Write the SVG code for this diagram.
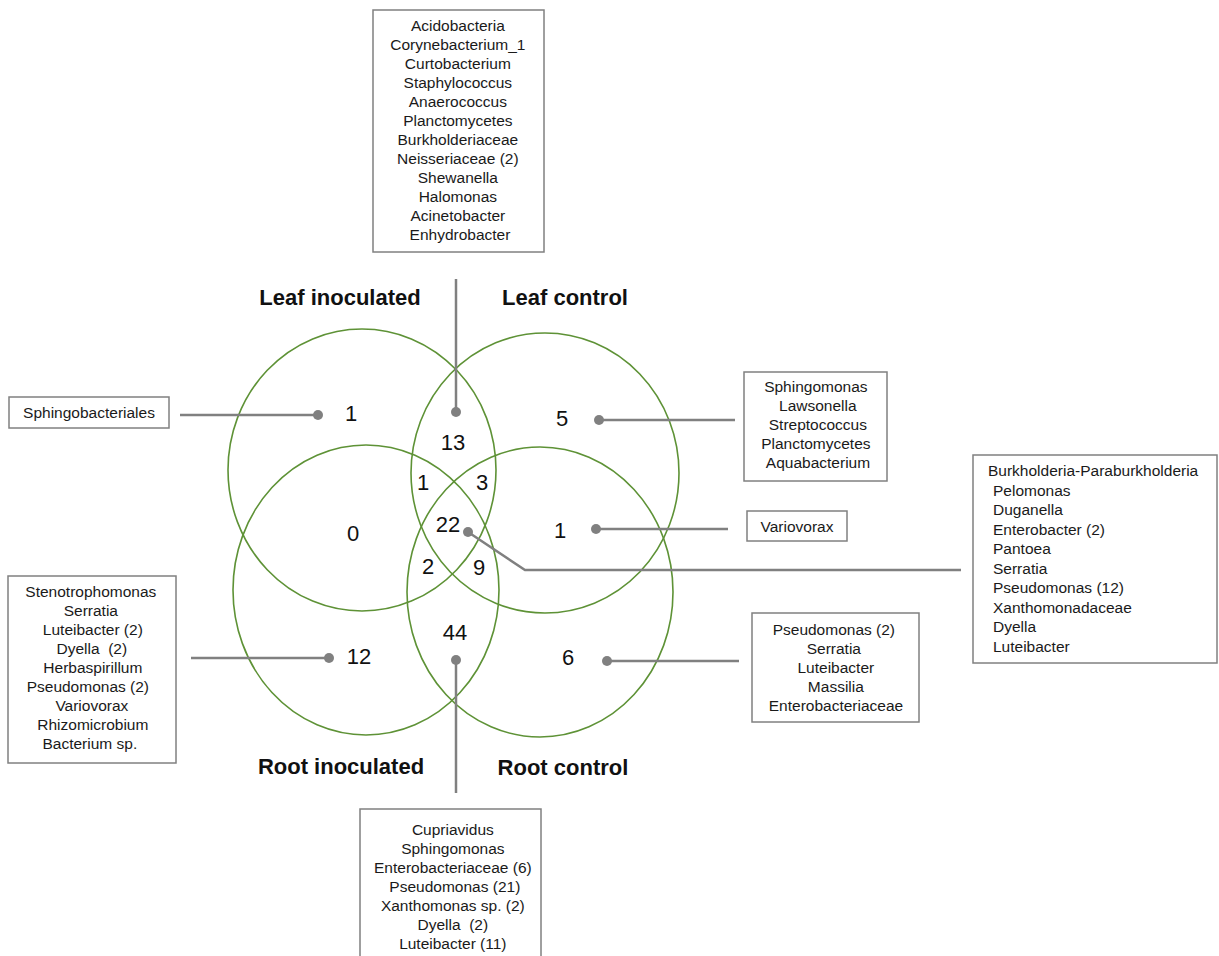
<svg xmlns="http://www.w3.org/2000/svg" width="1219" height="956" viewBox="0 0 1219 956">
<style>
.c{fill:none;stroke:#5e9236;stroke-width:1.6}
.b{fill:#fff;stroke:#808080;stroke-width:1.5}
.t{font-family:"Liberation Sans",Arial,sans-serif;font-size:15.5px;fill:#1a1a1a}
.n{font-family:"Liberation Sans",Arial,sans-serif;font-size:22px;fill:#111;text-anchor:middle}
.h{font-family:"Liberation Sans",Arial,sans-serif;font-size:22px;font-weight:bold;fill:#111;text-anchor:middle}
.l{fill:none;stroke:#808080;stroke-width:2.5}
.d{fill:#808080}
.p{white-space:pre}
</style>
<rect width="1219" height="956" fill="#fff"/>
<g id="circles">
<ellipse id="leaf-inoculated" class="c" cx="362" cy="470" rx="134" ry="141"/>
<ellipse id="leaf-control" class="c" cx="545" cy="473" rx="134" ry="140"/>
<ellipse id="root-inoculated" class="c" cx="366" cy="590" rx="133" ry="145"/>
<ellipse id="root-control" class="c" cx="540" cy="592" rx="133" ry="145"/>
</g>
<g id="headers">
<text class="h" x="340" y="305">Leaf inoculated</text>
<text class="h" x="565" y="305">Leaf control</text>
<text class="h" x="341" y="774">Root inoculated</text>
<text class="h" x="563" y="775">Root control</text>
</g>
<g id="connectors">
<line class="l" x1="456" y1="279" x2="456" y2="412"/><circle class="d" cx="456" cy="412" r="5"/>
<line class="l" x1="180" y1="415" x2="318" y2="415"/><circle class="d" cx="318" cy="415" r="5"/>
<line class="l" x1="599" y1="420" x2="735" y2="420"/><circle class="d" cx="599" cy="420" r="5"/>
<line class="l" x1="596" y1="529" x2="728" y2="529"/><circle class="d" cx="596" cy="529" r="5"/>
<polyline class="l" points="468,532 525,570 961,570"/><circle class="d" cx="468" cy="532" r="5"/>
<line class="l" x1="191" y1="658" x2="329" y2="658"/><circle class="d" cx="329" cy="658" r="5"/>
<line class="l" x1="607" y1="661" x2="739" y2="661"/><circle class="d" cx="607" cy="661" r="5"/>
<line class="l" x1="456" y1="660" x2="456" y2="793"/><circle class="d" cx="456" cy="660" r="5"/>
</g>
<g id="counts">
<text class="n" x="351" y="421">1</text>
<text class="n" x="453" y="450">13</text>
<text class="n" x="562" y="426">5</text>
<text class="n" x="423" y="490">1</text>
<text class="n" x="482" y="490">3</text>
<text class="n" x="448" y="532">22</text>
<text class="n" x="353" y="541">0</text>
<text class="n" x="560" y="538">1</text>
<text class="n" x="428" y="574">2</text>
<text class="n" x="479" y="575">9</text>
<text class="n" x="455" y="640">44</text>
<text class="n" x="359" y="664">12</text>
<text class="n" x="568" y="665">6</text>
</g>
<g id="box-top">
<rect class="b" x="373" y="10" width="171" height="242"/>
<text class="t" text-anchor="middle" x="460">
<tspan x="460" y="31">Acidobacteria</tspan>
<tspan x="460" y="50">Corynebacterium_1</tspan>
<tspan x="460" y="69">Curtobacterium</tspan>
<tspan x="460" y="88">Staphylococcus</tspan>
<tspan x="460" y="107">Anaerococcus</tspan>
<tspan x="460" y="126">Planctomycetes</tspan>
<tspan x="460" y="145">Burkholderiaceae</tspan>
<tspan x="460" y="164">Neisseriaceae (2)</tspan>
<tspan x="460" y="183">Shewanella</tspan>
<tspan x="460" y="202">Halomonas</tspan>
<tspan x="460" y="221">Acinetobacter</tspan>
<tspan x="460" y="240">Enhydrobacter</tspan>
</text>
</g>
<g id="box-leaf-inoculated">
<rect class="b" x="9" y="397" width="160" height="31"/>
<text class="t" text-anchor="middle" x="89" y="418">Sphingobacteriales</text>
</g>
<g id="box-leaf-control">
<rect class="b" x="744" y="372" width="143" height="109"/>
<text class="t" text-anchor="middle">
<tspan x="818" y="392">Sphingomonas</tspan>
<tspan x="820" y="411">Lawsonella</tspan>
<tspan x="820" y="430">Streptococcus</tspan>
<tspan x="818" y="449">Planctomycetes</tspan>
<tspan x="818" y="468">Aquabacterium</tspan>
</text>
</g>
<g id="box-variovorax">
<rect class="b" x="747" y="511" width="100" height="30"/>
<text class="t" text-anchor="middle" x="797" y="532">Variovorax</text>
</g>
<g id="box-core">
<rect class="b" x="973" y="455" width="244" height="208"/>
<text class="t">
<tspan x="988" y="476">Burkholderia-Paraburkholderia</tspan>
<tspan x="993" y="495.5">Pelomonas</tspan>
<tspan x="993" y="515">Duganella</tspan>
<tspan x="993" y="534.5">Enterobacter (2)</tspan>
<tspan x="993" y="554">Pantoea</tspan>
<tspan x="993" y="573.5">Serratia</tspan>
<tspan x="993" y="593">Pseudomonas (12)</tspan>
<tspan x="993" y="612.5">Xanthomonadaceae</tspan>
<tspan x="993" y="632">Dyella</tspan>
<tspan x="993" y="651.5">Luteibacter</tspan>
</text>
</g>
<g id="box-root-inoculated">
<rect class="b" x="8" y="576" width="168" height="187"/>
<text class="t p" text-anchor="middle">
<tspan x="93" y="597">Stenotrophomonas</tspan>
<tspan x="93" y="616">Serratia</tspan>
<tspan x="95" y="635">Luteibacter (2)</tspan>
<tspan x="94" y="654">Dyella  (2)</tspan>
<tspan x="95" y="673">Herbaspirillum</tspan>
<tspan x="90" y="692">Pseudomonas (2)</tspan>
<tspan x="94" y="711">Variovorax</tspan>
<tspan x="95" y="730">Rhizomicrobium</tspan>
<tspan x="92" y="749">Bacterium sp.</tspan>
</text>
</g>
<g id="box-root-control">
<rect class="b" x="752" y="613" width="167" height="109"/>
<text class="t" text-anchor="middle">
<tspan x="836" y="635">Pseudomonas (2)</tspan>
<tspan x="836" y="654">Serratia</tspan>
<tspan x="838" y="673">Luteibacter</tspan>
<tspan x="838" y="692">Massilia</tspan>
<tspan x="836" y="711">Enterobacteriaceae</tspan>
</text>
</g>
<g id="box-bottom">
<rect class="b" x="360" y="809" width="181" height="160"/>
<text class="t p" text-anchor="middle">
<tspan x="455" y="835">Cupriavidus</tspan>
<tspan x="455" y="854">Sphingomonas</tspan>
<tspan x="455" y="873">Enterobacteriaceae (6)</tspan>
<tspan x="457" y="892">Pseudomonas (21)</tspan>
<tspan x="455" y="911">Xanthomonas sp. (2)</tspan>
<tspan x="455" y="930">Dyella  (2)</tspan>
<tspan x="455" y="949">Luteibacter (11)</tspan>
</text>
</g>
</svg>
